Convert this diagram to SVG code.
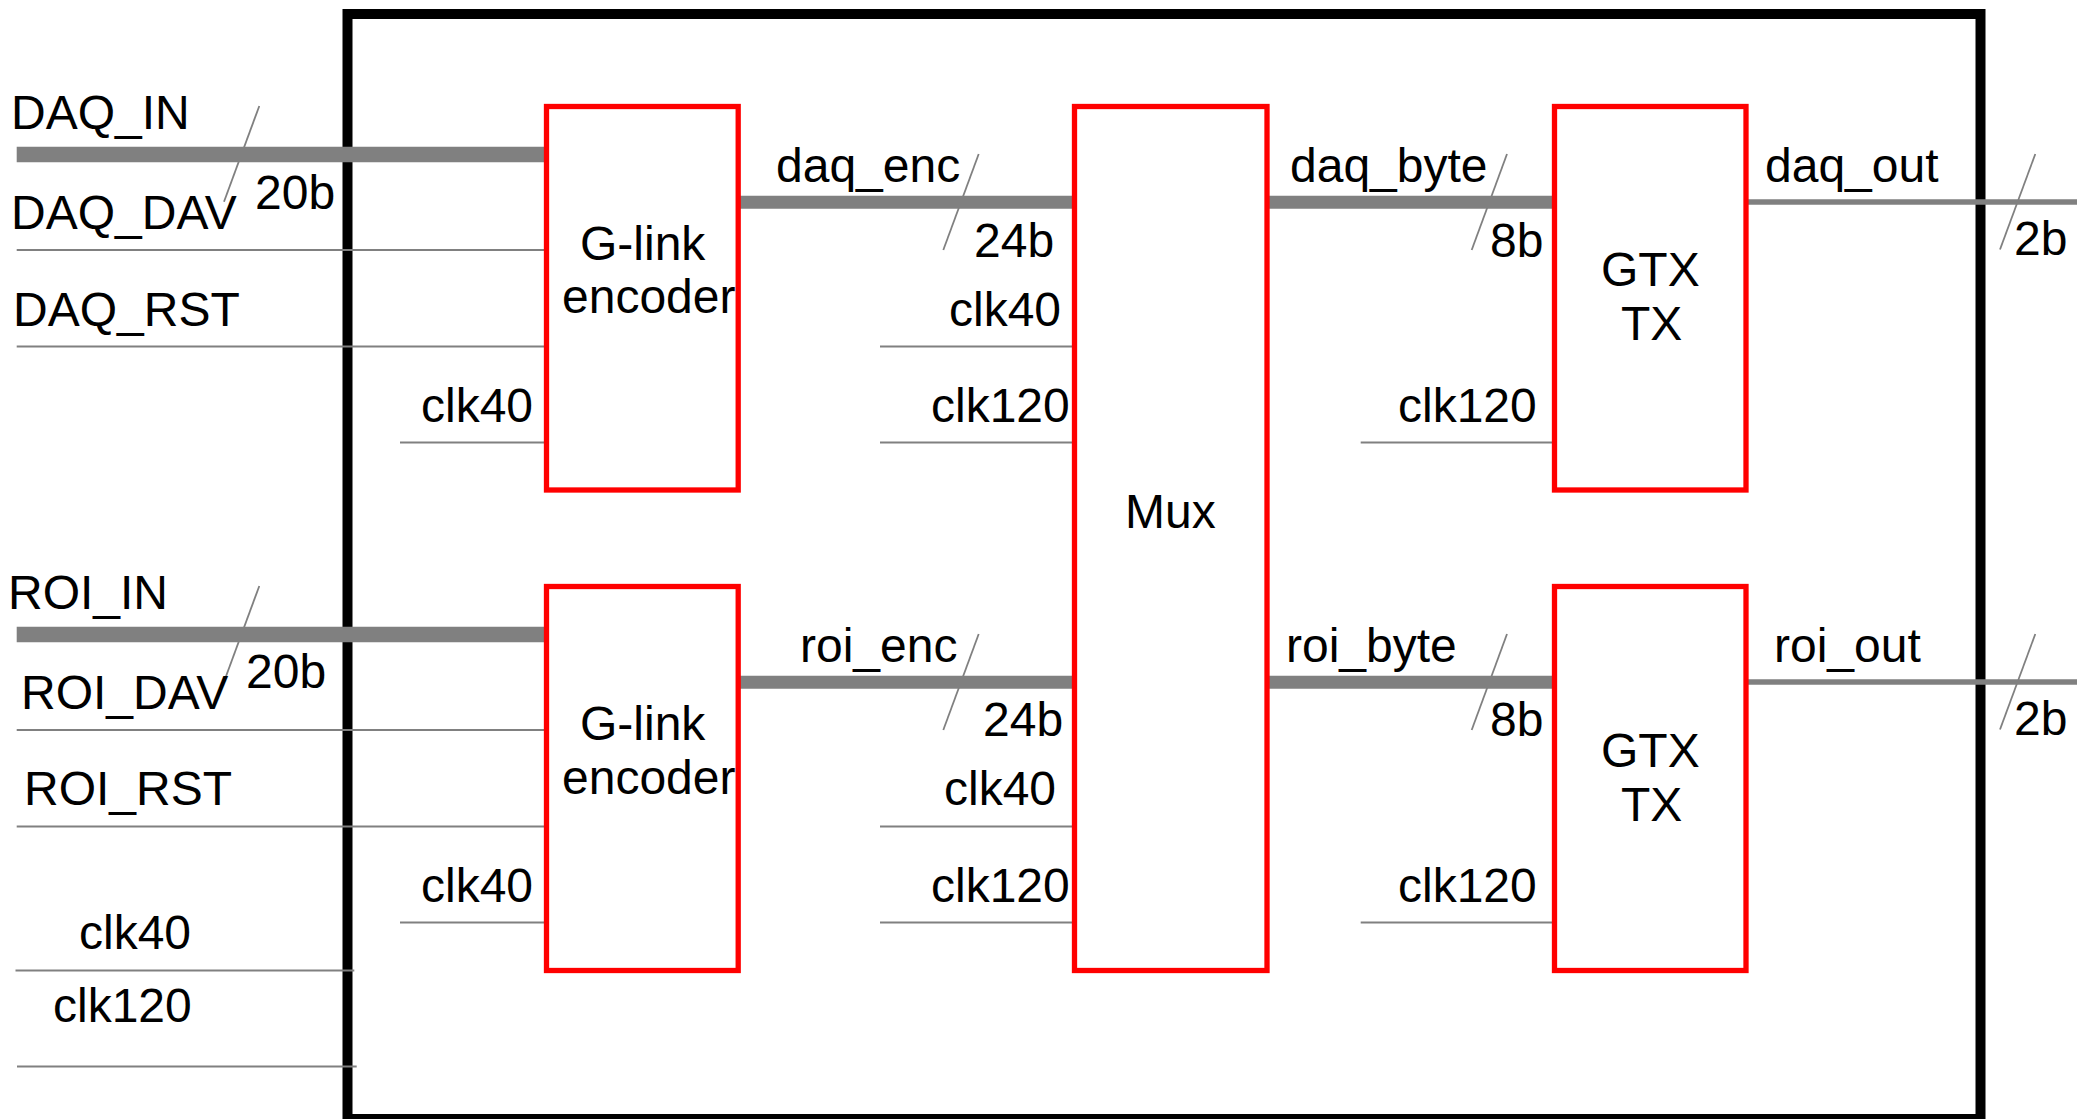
<svg xmlns="http://www.w3.org/2000/svg" width="2077" height="1119" viewBox="0 0 2077 1119">
  <style>
    text { font-family: "Liberation Sans", Arial, sans-serif; font-size: 48px; fill: #000; }
    .frame { fill: none; stroke: #000; stroke-width: 10; }
    .block { fill: #fff; stroke: #ff0000; stroke-width: 5.3; }
    .bus { stroke: #808080; stroke-width: 13; fill: none; }
    .busin { stroke: #808080; stroke-width: 15.6; fill: none; }
    .ser { stroke: #808080; stroke-width: 5.5; fill: none; }
    .sig { stroke: #808080; stroke-width: 2.2; fill: none; }
    .slash { stroke: #808080; stroke-width: 1.8; fill: none; }
  </style>
  <rect width="2077" height="1119" fill="#fff"/>
  <g id="frame">
    <rect class="frame" x="347.5" y="14" width="1633" height="1105"/>
  </g>
  <g id="connectors">
    <!-- DAQ channel -->
    <line class="busin" x1="16.7" y1="154.5" x2="546" y2="154.5"/>
    <line class="slash" x1="259.3" y1="106" x2="224" y2="201.7"/>
    <line class="sig" x1="16.7" y1="250" x2="546" y2="250"/>
    <line class="sig" x1="16.7" y1="346.5" x2="546" y2="346.5"/>
    <line class="sig" x1="400" y1="442.5" x2="546" y2="442.5"/>
    <line class="bus" x1="738" y1="202.3" x2="1074.5" y2="202.3"/>
    <line class="slash" x1="978.7" y1="154" x2="943.3" y2="250"/>
    <line class="sig" x1="880" y1="346.5" x2="1074.5" y2="346.5"/>
    <line class="sig" x1="880" y1="442.5" x2="1074.5" y2="442.5"/>
    <line class="bus" x1="1267" y1="202.3" x2="1554.5" y2="202.3"/>
    <line class="slash" x1="1507" y1="154" x2="1471.7" y2="250"/>
    <line class="sig" x1="1360.7" y1="442.5" x2="1554.5" y2="442.5"/>
    <line class="ser" x1="1746" y1="202" x2="2077" y2="202"/>
    <line class="slash" x1="2035.3" y1="154" x2="2000" y2="249.5"/>
    <!-- ROI channel -->
    <line class="busin" x1="16.7" y1="634.5" x2="546" y2="634.5"/>
    <line class="slash" x1="259.3" y1="586" x2="224" y2="681.7"/>
    <line class="sig" x1="16.7" y1="730" x2="546" y2="730"/>
    <line class="sig" x1="16.7" y1="826.5" x2="546" y2="826.5"/>
    <line class="sig" x1="400" y1="922.5" x2="546" y2="922.5"/>
    <line class="bus" x1="738" y1="682.3" x2="1074.5" y2="682.3"/>
    <line class="slash" x1="978.7" y1="634" x2="943.3" y2="730"/>
    <line class="sig" x1="880" y1="826.5" x2="1074.5" y2="826.5"/>
    <line class="sig" x1="880" y1="922.5" x2="1074.5" y2="922.5"/>
    <line class="bus" x1="1267" y1="682.3" x2="1554.5" y2="682.3"/>
    <line class="slash" x1="1507" y1="634" x2="1471.7" y2="730"/>
    <line class="sig" x1="1360.7" y1="922.5" x2="1554.5" y2="922.5"/>
    <line class="ser" x1="1746" y1="682" x2="2077" y2="682"/>
    <line class="slash" x1="2035.3" y1="634" x2="2000" y2="729.5"/>
    <!-- clocks -->
    <line class="sig" x1="15.5" y1="970.5" x2="354.3" y2="970.5"/>
    <line class="sig" x1="17" y1="1066.5" x2="356.7" y2="1066.5"/>
    <!-- labels -->
    <text x="11" y="129">DAQ_IN</text>
    <text x="11" y="229">DAQ_DAV</text>
    <text x="255" y="209">20b</text>
    <text x="13" y="325.7">DAQ_RST</text>
    <text x="421" y="421.7">clk40</text>
    <text x="776" y="181.7">daq_enc</text>
    <text x="974" y="256.7">24b</text>
    <text x="949" y="325.7">clk40</text>
    <text x="931" y="421.7">clk120</text>
    <text x="1290" y="181.7">daq_byte</text>
    <text x="1490" y="256.7">8b</text>
    <text x="1398" y="421.7">clk120</text>
    <text x="1765" y="181.7">daq_out</text>
    <text x="2014" y="255">2b</text>
    <text x="8" y="609.4">ROI_IN</text>
    <text x="21" y="709.2">ROI_DAV</text>
    <text x="246" y="688">20b</text>
    <text x="24" y="805.2">ROI_RST</text>
    <text x="421" y="901.5">clk40</text>
    <text x="800" y="661.9">roi_enc</text>
    <text x="983" y="736">24b</text>
    <text x="944" y="805">clk40</text>
    <text x="931" y="901.5">clk120</text>
    <text x="1286" y="661.9">roi_byte</text>
    <text x="1490" y="736">8b</text>
    <text x="1398" y="901.5">clk120</text>
    <text x="1774" y="661.9">roi_out</text>
    <text x="2014" y="735">2b</text>
    <text x="79" y="949">clk40</text>
    <text x="53" y="1022.3">clk120</text>
  </g>
  <g id="glink_daq">
    <rect class="block" x="546.5" y="106.5" width="191.7" height="383.5"/>
    <text x="580" y="260">G-link</text>
    <text x="562" y="313.3">encoder</text>
  </g>
  <g id="glink_roi">
    <rect class="block" x="546.5" y="586.5" width="191.7" height="384"/>
    <text x="580" y="740">G-link</text>
    <text x="562" y="793.5">encoder</text>
  </g>
  <g id="mux">
    <rect class="block" x="1074.5" y="106.5" width="192.5" height="864"/>
    <text x="1125" y="527.6">Mux</text>
  </g>
  <g id="gtx_daq">
    <rect class="block" x="1554.5" y="106.5" width="191.5" height="383.5"/>
    <text x="1601" y="286">GTX</text>
    <text x="1621" y="340">TX</text>
  </g>
  <g id="gtx_roi">
    <rect class="block" x="1554.5" y="586.5" width="191.5" height="384"/>
    <text x="1601" y="766.5">GTX</text>
    <text x="1621" y="820.5">TX</text>
  </g>
</svg>
